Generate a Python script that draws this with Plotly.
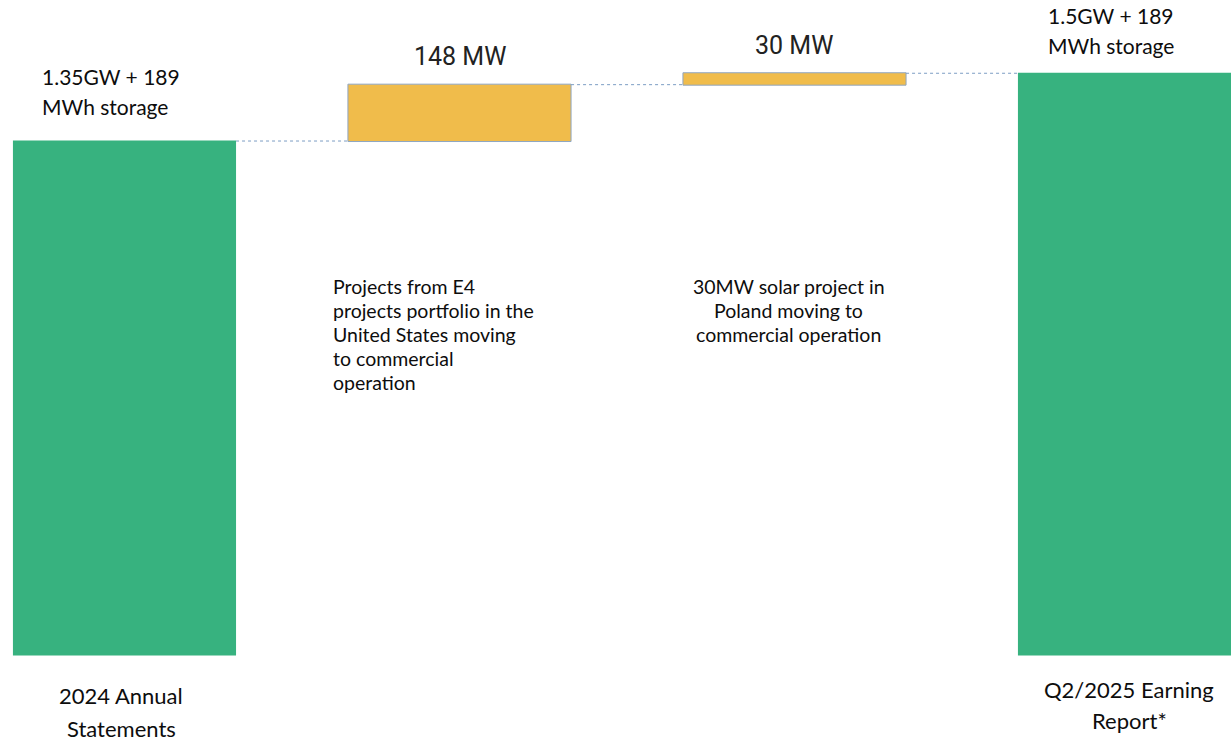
import plotly.graph_objects as go

# ---- data ----
steps = ["2024 Annual Statements", "E4 US projects", "Poland solar", "Q2/2025 Earning Report*"]
measures = ["absolute", "relative", "relative", "total"]
values_mw = [1350, 148, 30, 0]
tick_labels = [["2024 Annual", "Statements"], [], [], ["Q2/2025 Earning", "Report*"]]
delta_labels = ["", "148 MW", "30 MW", ""]
level_labels = [["1.35GW + 189", "MWh storage"], [], [], ["1.5GW + 189", "MWh storage"]]
notes = [[],
         ["Projects from E4", "projects portfolio in the", "United States moving",
          "to commercial", "operation"],
         ["30MW solar project in", "Poland moving to", "commercial operation"],
         []]

W, H = 1231, 744
GREEN = "#37B27F"
ORANGE = "#F0BC4B"
FONT_BODY = "Lato"

x = list(range(len(steps)))

fig = go.Figure(go.Waterfall(
    x=x,
    y=values_mw,
    measure=measures,
    width=0.666,
    increasing=dict(marker=dict(color=ORANGE, line=dict(color="#8FA6C2", width=1))),
    decreasing=dict(marker=dict(color=ORANGE)),
    totals=dict(marker=dict(color=GREEN, line=dict(width=0))),
    connector=dict(mode="between", line=dict(color="#7C9DC4", width=1, dash="dot")),
    hoverinfo="skip",
))


def px(xp):
    return xp / W


def py(yp):
    return 1 - yp / H


ann = []


def block(lines, xp, y0, dy, size, anchor="center", family=FONT_BODY, color="#0d0d0d"):
    for i, line in enumerate(lines):
        ann.append(dict(x=px(xp), y=py(y0 + i * dy), text=line, xanchor=anchor,
                        yanchor="middle", xref="paper", yref="paper", showarrow=False,
                        align=anchor, font=dict(family=family, size=size, color=color)))


# bottom category labels
block(tick_labels[0], 121, 695, 33, 22)
block(tick_labels[3], 1129, 689, 31, 22)

# level labels
block(level_labels[0], 40, 76, 31, 21, anchor="left")
block(level_labels[3], 1046, 16, 29, 21, anchor="left")

# delta labels
block([delta_labels[1]], 460, 56, 0, 25, family="Roboto", color="#222")
block([delta_labels[2]], 794, 45, 0, 25, family="Roboto", color="#222")

# notes
block(notes[1], 331, 286, 24, 19.5, anchor="left")
block(notes[2], 789, 286, 24.5, 19.5)

fig.update_layout(
    width=W, height=H,
    margin=dict(l=0, r=0, t=0, b=0),
    paper_bgcolor="white", plot_bgcolor="white",
    showlegend=False,
    annotations=ann,
    xaxis=dict(range=[-0.3716, 3.303], visible=False),
    yaxis=dict(range=[-233.8, 1720.4], visible=False),
)

fig.write_html("out.html")
